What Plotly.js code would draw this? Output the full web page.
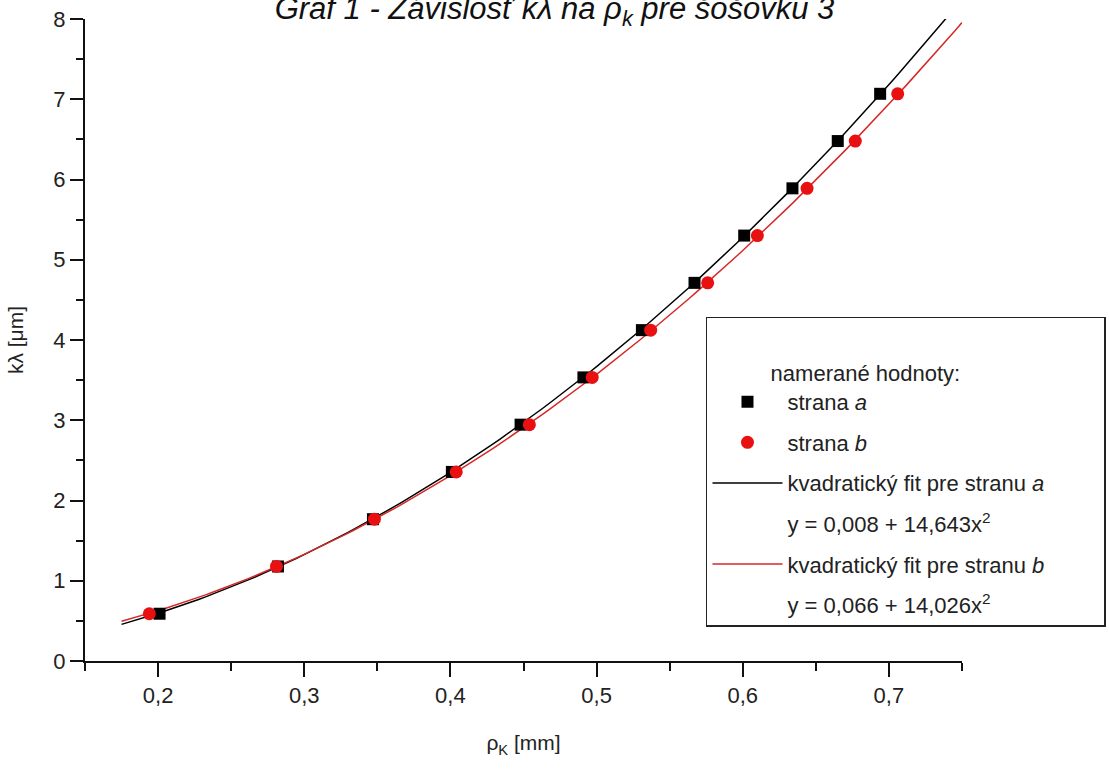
<!DOCTYPE html>
<html>
<head>
<meta charset="utf-8">
<script src="https://cdn.plot.ly/plotly-3.0.1.min.js"></script>
<style>html,body{margin:0;padding:0;background:#fff;}#chart{width:1109px;height:769px;}</style>
</head>
<body>
<div id="chart"></div>
<script>
// measured values: k·λ [µm] for k = 1..12
const klambda = [0.589, 1.178, 1.767, 2.356, 2.945, 3.534, 4.123, 4.712, 5.301, 5.890, 6.479, 7.068];
// ρ_k [mm], side a
const rhoA = [0.201, 0.282, 0.347, 0.401, 0.448, 0.491, 0.531, 0.567, 0.601, 0.634, 0.665, 0.694];
// ρ_k [mm], side b
const rhoB = [0.194, 0.281, 0.348, 0.404, 0.454, 0.497, 0.537, 0.576, 0.610, 0.644, 0.677, 0.706];
// quadratic fit coefficients y = c0 + c2·x²
const fitA = [0.008, 14.643];
const fitB = [0.066, 14.026];
// fit line sampling range
const fitRange = [0.175, 0.75];
const xTickVals = [0.2, 0.3, 0.4, 0.5, 0.6, 0.7];

function fitCurve(c) {
  const xs = [], ys = [];
  const n = 120;
  for (let i = 0; i <= n; i++) {
    const x = fitRange[0] + (fitRange[1] - fitRange[0]) * i / n;
    xs.push(x);
    ys.push(c[0] + c[1] * x * x);
  }
  return {x: xs, y: ys};
}
const cA = fitCurve(fitA), cB = fitCurve(fitB);
const RED = 'rgb(232,16,16)';
const FONT = 'Arial, "Liberation Sans", sans-serif';
const NB = n => '\u00a0'.repeat(n);

const traces = [
  {x: cA.x, y: cA.y, mode: 'lines', line: {color: '#000', width: 1.5}, showlegend: false, hoverinfo: 'skip'},
  {x: cB.x, y: cB.y, mode: 'lines', line: {color: 'rgb(215,40,40)', width: 1.5}, showlegend: false, hoverinfo: 'skip'},
  {x: rhoA, y: klambda, mode: 'markers', name: 'strana <i>a</i>', legendgroup: 'g1',
   marker: {symbol: 'square', size: 12, color: '#000'}},
  {x: rhoB, y: klambda, mode: 'markers', name: 'strana <i>b</i>', legendgroup: 'g2',
   marker: {symbol: 'circle', size: 13, color: RED}},
  {x: [null], y: [null], mode: 'lines', name: 'kvadratický fit pre stranu <i>a</i>' + NB(9), legendgroup: 'g3',
   line: {color: '#000', width: 1.5}},
  {x: [null], y: [null], mode: 'lines', name: 'y = 0,008 + 14,643x<sup>2</sup>', legendgroup: 'g4',
   line: {color: 'rgba(0,0,0,0)', width: 0}},
  {x: [null], y: [null], mode: 'lines', name: 'kvadratický fit pre stranu <i>b</i>', legendgroup: 'g5',
   line: {color: 'rgb(215,40,40)', width: 1.5}},
  {x: [null], y: [null], mode: 'lines', name: 'y = 0,066 + 14,026x<sup>2</sup>', legendgroup: 'g6',
   line: {color: 'rgba(0,0,0,0)', width: 0}}
];

const layout = {
  width: 1109, height: 769,
  paper_bgcolor: '#fff', plot_bgcolor: '#fff',
  separators: ', ',
  font: {family: FONT, color: '#222', size: 21},
  margin: {l: 85, r: 147, t: 19, b: 108, pad: 0, autoexpand: false},
  title: {
    text: '<i>Graf 1 - Závislosť kλ na ρ<sub>k</sub> pre šošovku 3</i>',
    font: {family: FONT, size: 31, color: '#111'},
    x: 0.5, xanchor: 'center', xref: 'container',
    y: 0.989, yanchor: 'middle', yref: 'container'
  },
  xaxis: {
    range: [0.15, 0.75], showgrid: false, zeroline: false,
    showline: true, linecolor: '#111', linewidth: 2,
    ticks: 'outside', ticklen: 14, tickwidth: 2, tickcolor: '#111',
    tickvals: xTickVals, tickformat: '.1f',
    tickfont: {size: 22, family: FONT, color: '#222'},
    minor: {dtick: 0.05, ticks: 'outside', ticklen: 8, tickwidth: 2, tickcolor: '#111', showgrid: false},
    title: {text: 'ρ<sub>K</sub> [mm]', font: {size: 21, family: FONT, color: '#222'}, standoff: 28},
    automargin: false
  },
  yaxis: {
    range: [0, 8], showgrid: false, zeroline: false,
    showline: true, linecolor: '#111', linewidth: 2,
    ticks: 'outside', ticklen: 13, tickwidth: 2, tickcolor: '#111',
    dtick: 1, tick0: 0,
    tickfont: {size: 22, family: FONT, color: '#222'},
    minor: {dtick: 0.5, ticks: 'outside', ticklen: 7, tickwidth: 2, tickcolor: '#111', showgrid: false},
    title: {text: 'kλ [μm]', font: {size: 21, family: FONT, color: '#222'}, standoff: 24},
    automargin: false
  },
  showlegend: true,
  legend: {
    xref: 'container', yref: 'container',
    x: 0.6366, xanchor: 'left', y: 0.5878, yanchor: 'top',
    bgcolor: '#fff', bordercolor: '#222', borderwidth: 1.5,
    font: {size: 22, family: FONT, color: '#222'},
    traceorder: 'grouped', tracegroupgap: 9,
    itemwidth: 70, valign: 'middle',
    title: {text: '<br><span style="font-size:22px">' + NB(10) + 'namerané hodnoty:</span>',
            font: {size: 24, family: FONT, color: '#222'}}
  }
};

Plotly.newPlot('chart', traces, layout, {displayModeBar: false, staticPlot: true});
</script>
</body>
</html>
